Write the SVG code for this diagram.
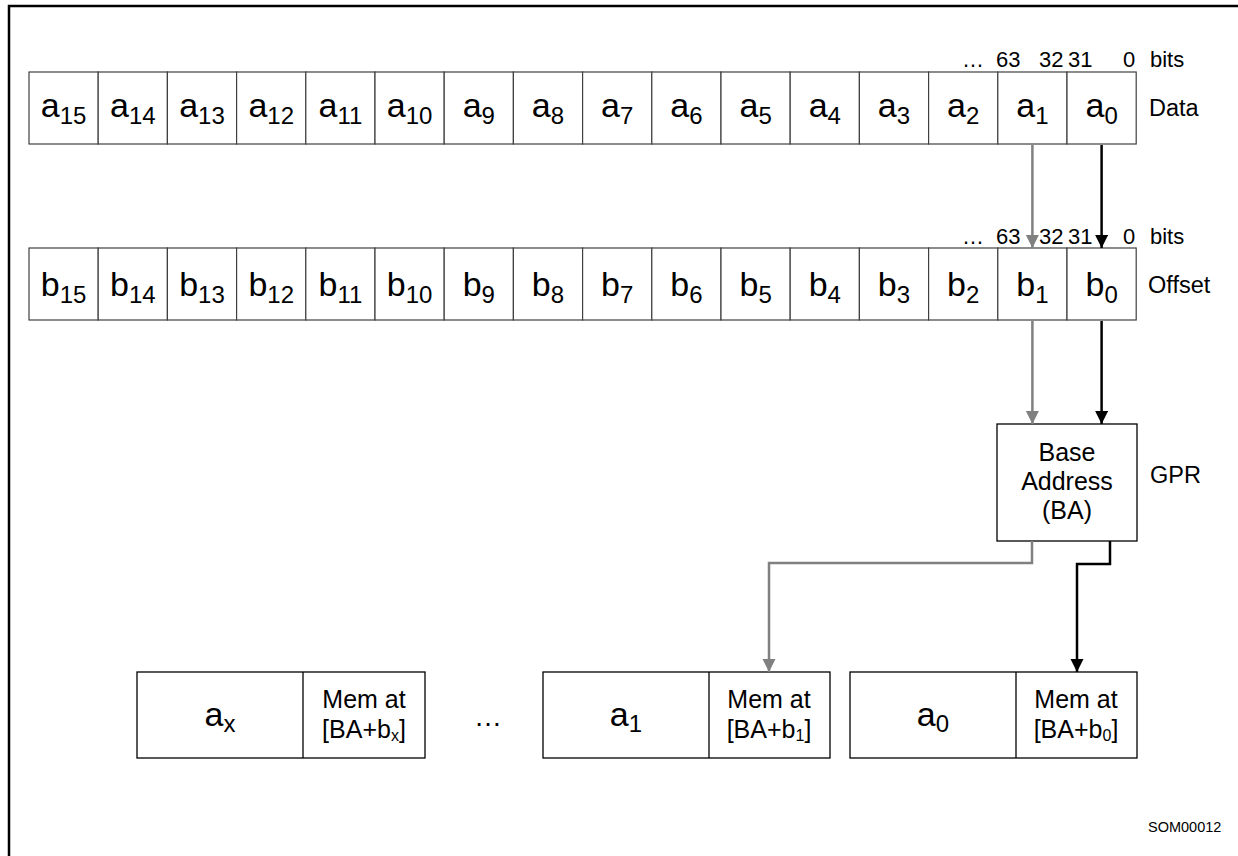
<svg xmlns="http://www.w3.org/2000/svg" width="1238" height="856" viewBox="0 0 1238 856">
<defs>
<style>
text{font-family:"Liberation Sans",Arial,sans-serif;fill:#000}
.cell{fill:#fff;stroke:#404040;stroke-width:1.2}
.box{fill:#fff;stroke:#000;stroke-width:1.3}
.v{font-size:34px;text-anchor:middle}
.s{font-size:24px}
.lbl{font-size:23.5px}
.bits{font-size:22px}
.mem{font-size:25px;text-anchor:middle}
.g{fill:none;stroke:#808080;stroke-width:2.5}
.k{fill:none;stroke:#000;stroke-width:2.5}
</style>
<marker id="ag" markerUnits="userSpaceOnUse" markerWidth="14" markerHeight="14" refX="13" refY="6.5" orient="auto"><path d="M0,0 L13,6.5 L0,13 Z" fill="#808080"/></marker>
<marker id="ak" markerUnits="userSpaceOnUse" markerWidth="14" markerHeight="14" refX="13" refY="6.5" orient="auto"><path d="M0,0 L13,6.5 L0,13 Z" fill="#000"/></marker>
</defs>
<rect width="1238" height="856" fill="#fff"/>
<path d="M9,856 V6 H1238" fill="none" stroke="#000" stroke-width="2.5"/>

<g id="data-row">
<rect class="cell" x="29" y="72" width="69.2" height="72"/><text class="v" x="63.6" y="117">a<tspan class="s" dy="7">15</tspan></text>
<rect class="cell" x="98.2" y="72" width="69.2" height="72"/><text class="v" x="132.8" y="117">a<tspan class="s" dy="7">14</tspan></text>
<rect class="cell" x="167.4" y="72" width="69.2" height="72"/><text class="v" x="202" y="117">a<tspan class="s" dy="7">13</tspan></text>
<rect class="cell" x="236.6" y="72" width="69.2" height="72"/><text class="v" x="271.2" y="117">a<tspan class="s" dy="7">12</tspan></text>
<rect class="cell" x="305.8" y="72" width="69.2" height="72"/><text class="v" x="340.4" y="117">a<tspan class="s" dy="7">11</tspan></text>
<rect class="cell" x="375" y="72" width="69.2" height="72"/><text class="v" x="409.6" y="117">a<tspan class="s" dy="7">10</tspan></text>
<rect class="cell" x="444.2" y="72" width="69.2" height="72"/><text class="v" x="478.8" y="117">a<tspan class="s" dy="7">9</tspan></text>
<rect class="cell" x="513.4" y="72" width="69.2" height="72"/><text class="v" x="548" y="117">a<tspan class="s" dy="7">8</tspan></text>
<rect class="cell" x="582.6" y="72" width="69.2" height="72"/><text class="v" x="617.2" y="117">a<tspan class="s" dy="7">7</tspan></text>
<rect class="cell" x="651.8" y="72" width="69.2" height="72"/><text class="v" x="686.4" y="117">a<tspan class="s" dy="7">6</tspan></text>
<rect class="cell" x="721" y="72" width="69.2" height="72"/><text class="v" x="755.6" y="117">a<tspan class="s" dy="7">5</tspan></text>
<rect class="cell" x="790.2" y="72" width="69.2" height="72"/><text class="v" x="824.8" y="117">a<tspan class="s" dy="7">4</tspan></text>
<rect class="cell" x="859.4" y="72" width="69.2" height="72"/><text class="v" x="894" y="117">a<tspan class="s" dy="7">3</tspan></text>
<rect class="cell" x="928.6" y="72" width="69.2" height="72"/><text class="v" x="963.2" y="117">a<tspan class="s" dy="7">2</tspan></text>
<rect class="cell" x="997.8" y="72" width="69.2" height="72"/><text class="v" x="1032.4" y="117">a<tspan class="s" dy="7">1</tspan></text>
<rect class="cell" x="1067" y="72" width="69.2" height="72"/><text class="v" x="1101.6" y="117">a<tspan class="s" dy="7">0</tspan></text>
<text class="bits" x="962" y="67">…</text>
<text class="bits" x="996" y="67">63</text>
<text class="bits" x="1039" y="67">32</text>
<text class="bits" x="1068" y="67">31</text>
<text class="bits" x="1123" y="67">0</text>
<text class="bits" x="1150" y="67">bits</text>
<text class="lbl" x="1149" y="116">Data</text>
</g>

<g id="offset-row">
<rect class="cell" x="29" y="248" width="69.2" height="72"/><text class="v" x="63.6" y="296">b<tspan class="s" dy="7">15</tspan></text>
<rect class="cell" x="98.2" y="248" width="69.2" height="72"/><text class="v" x="132.8" y="296">b<tspan class="s" dy="7">14</tspan></text>
<rect class="cell" x="167.4" y="248" width="69.2" height="72"/><text class="v" x="202" y="296">b<tspan class="s" dy="7">13</tspan></text>
<rect class="cell" x="236.6" y="248" width="69.2" height="72"/><text class="v" x="271.2" y="296">b<tspan class="s" dy="7">12</tspan></text>
<rect class="cell" x="305.8" y="248" width="69.2" height="72"/><text class="v" x="340.4" y="296">b<tspan class="s" dy="7">11</tspan></text>
<rect class="cell" x="375" y="248" width="69.2" height="72"/><text class="v" x="409.6" y="296">b<tspan class="s" dy="7">10</tspan></text>
<rect class="cell" x="444.2" y="248" width="69.2" height="72"/><text class="v" x="478.8" y="296">b<tspan class="s" dy="7">9</tspan></text>
<rect class="cell" x="513.4" y="248" width="69.2" height="72"/><text class="v" x="548" y="296">b<tspan class="s" dy="7">8</tspan></text>
<rect class="cell" x="582.6" y="248" width="69.2" height="72"/><text class="v" x="617.2" y="296">b<tspan class="s" dy="7">7</tspan></text>
<rect class="cell" x="651.8" y="248" width="69.2" height="72"/><text class="v" x="686.4" y="296">b<tspan class="s" dy="7">6</tspan></text>
<rect class="cell" x="721" y="248" width="69.2" height="72"/><text class="v" x="755.6" y="296">b<tspan class="s" dy="7">5</tspan></text>
<rect class="cell" x="790.2" y="248" width="69.2" height="72"/><text class="v" x="824.8" y="296">b<tspan class="s" dy="7">4</tspan></text>
<rect class="cell" x="859.4" y="248" width="69.2" height="72"/><text class="v" x="894" y="296">b<tspan class="s" dy="7">3</tspan></text>
<rect class="cell" x="928.6" y="248" width="69.2" height="72"/><text class="v" x="963.2" y="296">b<tspan class="s" dy="7">2</tspan></text>
<rect class="cell" x="997.8" y="248" width="69.2" height="72"/><text class="v" x="1032.4" y="296">b<tspan class="s" dy="7">1</tspan></text>
<rect class="cell" x="1067" y="248" width="69.2" height="72"/><text class="v" x="1101.6" y="296">b<tspan class="s" dy="7">0</tspan></text>
<text class="bits" x="962" y="244">…</text>
<text class="bits" x="996" y="244">63</text>
<text class="bits" x="1039" y="244">32</text>
<text class="bits" x="1068" y="244">31</text>
<text class="bits" x="1123" y="244">0</text>
<text class="bits" x="1150" y="244">bits</text>
<text class="lbl" x="1148" y="293">Offset</text>
</g>

<g id="gpr">
<rect class="box" x="997" y="424" width="140" height="117"/>
<text class="mem" x="1067" y="461">Base</text>
<text class="mem" x="1067" y="490">Address</text>
<text class="mem" x="1067" y="519">(BA)</text>
<text class="lbl" x="1150" y="483">GPR</text>
</g>

<g id="mem-x">
<rect class="box" x="137" y="672" width="288" height="86"/>
<line x1="303" y1="672" x2="303" y2="758" stroke="#000" stroke-width="1.3"/>
<text class="v" x="220" y="726">a<tspan class="s" dy="6">x</tspan></text>
<text class="mem" x="364" y="708">Mem at</text>
<text class="mem" x="364" y="738">[BA+b<tspan font-size="16" dy="3">x</tspan><tspan dy="-3">]</tspan></text>
</g>

<text id="ellipsis" x="474" y="726" font-size="28">…</text>

<g id="mem-1">
<rect class="box" x="543" y="672" width="287" height="86"/>
<line x1="709" y1="672" x2="709" y2="758" stroke="#000" stroke-width="1.3"/>
<text class="v" x="626" y="726">a<tspan class="s" dy="6">1</tspan></text>
<text class="mem" x="769" y="708">Mem at</text>
<text class="mem" x="769" y="738">[BA+b<tspan font-size="16" dy="3">1</tspan><tspan dy="-3">]</tspan></text>
</g>

<g id="mem-0">
<rect class="box" x="850" y="672" width="287" height="86"/>
<line x1="1016" y1="672" x2="1016" y2="758" stroke="#000" stroke-width="1.3"/>
<text class="v" x="933" y="726">a<tspan class="s" dy="6">0</tspan></text>
<text class="mem" x="1076" y="708">Mem at</text>
<text class="mem" x="1076" y="738">[BA+b<tspan font-size="16" dy="3">0</tspan><tspan dy="-3">]</tspan></text>
</g>

<g id="connectors">
<path class="g" d="M1032.4,145 V248" marker-end="url(#ag)"/>
<path class="k" d="M1101.6,145 V248" marker-end="url(#ak)"/>
<path class="g" d="M1032.4,321 V424" marker-end="url(#ag)"/>
<path class="k" d="M1101.6,321 V424" marker-end="url(#ak)"/>
<path class="g" d="M1032,541 V563 H769 V672" marker-end="url(#ag)"/>
<path class="k" d="M1110,541 V564 H1077 V672" marker-end="url(#ak)"/>
</g>

<text x="1148" y="832" font-size="14.5">SOM00012</text>
</svg>
